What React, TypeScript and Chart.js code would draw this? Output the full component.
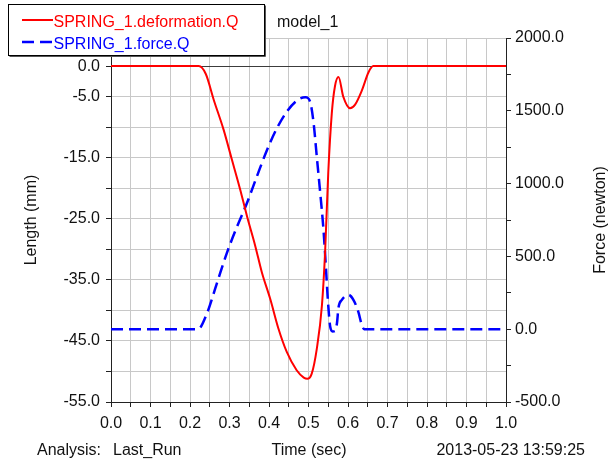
import React, { useEffect, useRef } from 'react';
import { Chart, registerables } from 'chart.js';

Chart.register(...registerables);

// ---- data ----
const deformTime = [0, 0.222, 0.24, 0.26, 0.285, 0.306, 0.327, 0.344, 0.365, 0.382, 0.403, 0.424, 0.445, 0.47, 0.488, 0.497, 0.508, 0.521, 0.534, 0.542, 0.55, 0.559, 0.567, 0.576, 0.588, 0.605, 0.618, 0.635, 0.652, 0.664, 1.0];
const deformValues = [0, 0, -1.3, -5.5, -10.4, -15.3, -20.2, -24.5, -29.4, -33.8, -38.1, -43.0, -46.8, -49.8, -51.0, -51.2, -50.4, -46.3, -39.2, -30.5, -17.5, -7.7, -3.3, -1.8, -5.0, -6.9, -6.3, -4.0, -1.0, 0, 0];

const forceTime = [0, 0.22, 0.243, 0.268, 0.293, 0.319, 0.344, 0.369, 0.395, 0.42, 0.445, 0.47, 0.492, 0.504, 0.513, 0.521, 0.529, 0.538, 0.544, 0.549, 0.555, 0.561, 0.567, 0.572, 0.576, 0.584, 0.601, 0.614, 0.626, 0.635, 0.641, 1.0];
const forceValues = [0, 0, 109, 315, 521, 704, 865, 1047, 1231, 1380, 1494, 1569, 1593, 1563, 1414, 1185, 956, 681, 429, 200, 17, -15, -12, 40, 150, 200, 236, 200, 120, 29, 0, 0];

const timeTicks = [0, 0.05, 0.1, 0.15, 0.2, 0.25, 0.3, 0.35, 0.4, 0.45, 0.5, 0.55, 0.6, 0.65, 0.7, 0.75, 0.8, 0.85, 0.9, 0.95, 1.0];
const timeLabelled = [0, 0.1, 0.2, 0.3, 0.4, 0.5, 0.6, 0.7, 0.8, 0.9, 1.0];
const lengthTicks = [-55, -50, -45, -40, -35, -30, -25, -20, -15, -10, -5, 0];
const lengthLabelled = [-55, -45, -35, -25, -15, -5, 0];
const forceTicks = [-500, -250, 0, 250, 500, 750, 1000, 1250, 1500, 1750, 2000];
const forceLabelled = [-500, 0, 500, 1000, 1500, 2000];

const seriesNames = ['SPRING_1.deformation.Q', 'SPRING_1.force.Q'];
const seriesColors = ['#ff0000', '#0000ff'];
const chartTitle = 'model_1';
const xTitle = 'Time (sec)';
const yTitle = 'Length (mm)';
const y1Title = 'Force (newton)';
const analysisLabel = 'Analysis:';
const analysisName = 'Last_Run';
const stamp = '2013-05-23 13:59:25';

const FONT = '"Liberation Sans", Arial, sans-serif';
const TEXT = '#111111';
const GRID = '#c8c8c8';
const AXIS = '#222222';
const DASH = [12, 6];

const isIn = (arr: number[], v: number) => arr.some((a) => Math.abs(a - v) < 1e-6);

const overlayPlugin = {
  id: 'overlay',
  beforeDatasetsDraw(chart: any) {
    const { ctx, chartArea } = chart;
    ctx.save();
    ctx.strokeStyle = GRID;
    ctx.lineWidth = 1;
    ctx.beginPath();
    ctx.moveTo(chartArea.left, Math.round(chartArea.top) + 0.5);
    ctx.lineTo(chartArea.right, Math.round(chartArea.top) + 0.5);
    ctx.stroke();
    ctx.restore();
  },
  afterDraw(chart: any) {
    const { ctx, chartArea } = chart;
    const midY = (chartArea.top + chartArea.bottom) / 2;
    ctx.save();
    ctx.font = `16px ${FONT}`;
    ctx.fillStyle = TEXT;
    ctx.textBaseline = 'alphabetic';
    ctx.textAlign = 'left';
    // title
    ctx.fillText(chartTitle, 277, 27);
    // bottom texts
    ctx.fillText(analysisLabel, 37, 454.5);
    ctx.fillText(analysisName, 113, 454.5);
    ctx.textAlign = 'center';
    ctx.fillText(xTitle, 309, 454.5);
    ctx.textAlign = 'right';
    ctx.fillText(stamp, 585, 454.5);
    // axis titles
    ctx.textAlign = 'center';
    ctx.textBaseline = 'middle';
    ctx.save();
    ctx.translate(31.5, midY);
    ctx.rotate(-Math.PI / 2);
    ctx.fillText(yTitle, 0, 0);
    ctx.restore();
    ctx.save();
    ctx.translate(600.5, midY);
    ctx.rotate(-Math.PI / 2);
    ctx.fillText(y1Title, 0, 0);
    ctx.restore();

    // legend box
    ctx.fillStyle = '#ffffff';
    ctx.fillRect(8.5, 4.5, 256, 51);
    ctx.strokeStyle = '#000000';
    ctx.lineWidth = 1;
    ctx.strokeRect(8.5, 4.5, 256, 51);
    ctx.strokeStyle = '#555555';
    ctx.beginPath();
    ctx.moveTo(265.5, 5.5);
    ctx.lineTo(265.5, 56.5);
    ctx.lineTo(9.5, 56.5);
    ctx.stroke();

    const rows = [20, 42];
    const baselines = [27.3, 49.3];
    seriesNames.forEach((name, i) => {
      ctx.strokeStyle = seriesColors[i];
      ctx.lineWidth = i === 0 ? 2 : 2.5;
      ctx.setLineDash(i === 0 ? [] : DASH);
      ctx.beginPath();
      ctx.moveTo(22, rows[i]);
      ctx.lineTo(53, rows[i]);
      ctx.stroke();
      ctx.setLineDash([]);
      ctx.fillStyle = seriesColors[i];
      ctx.textAlign = 'left';
      ctx.textBaseline = 'alphabetic';
      ctx.fillText(name, 53.5, baselines[i]);
    });
    ctx.restore();
  },
};

export default function App() {
  const ref = useRef<HTMLCanvasElement | null>(null);

  useEffect(() => {
    if (!ref.current) return;
    const tickFont = { family: FONT, size: 16 };
    const chart = new Chart(ref.current, {
      type: 'line',
      data: {
        datasets: [
          {
            label: seriesNames[0],
            data: deformTime.map((t, i) => ({ x: t, y: deformValues[i] })),
            borderColor: seriesColors[0],
            borderWidth: 2,
            pointRadius: 0,
            cubicInterpolationMode: 'monotone',
            yAxisID: 'y',
            fill: false,
          },
          {
            label: seriesNames[1],
            data: forceTime.map((t, i) => ({ x: t, y: forceValues[i] })),
            borderColor: seriesColors[1],
            borderWidth: 2.5,
            borderDash: DASH,
            pointRadius: 0,
            cubicInterpolationMode: 'monotone',
            yAxisID: 'y1',
            fill: false,
          },
        ],
      },
      options: {
        animation: false,
        responsive: true,
        maintainAspectRatio: false,
        layout: { padding: { top: 38, left: 0, right: 0, bottom: 0 } },
        plugins: {
          legend: { display: false },
          title: { display: false },
          tooltip: { enabled: false },
        },
        scales: {
          x: {
            type: 'linear',
            position: 'bottom',
            min: 0,
            max: 1,
            afterBuildTicks: (scale: any) => {
              scale.ticks = timeTicks.map((v) => ({ value: v }));
            },
            afterFit: (scale: any) => {
              scale.height = 57;
            },
            ticks: {
              autoSkip: false,
              maxRotation: 0,
              minRotation: 0,
              padding: 7,
              color: TEXT,
              font: tickFont,
              callback: (v: any) => (isIn(timeLabelled, Number(v)) ? Number(v).toFixed(1) : ''),
            },
            grid: { color: GRID, lineWidth: 1, tickColor: AXIS, tickLength: 5, drawTicks: true },
            border: { display: true, color: AXIS, width: 1 },
          },
          y: {
            type: 'linear',
            position: 'left',
            min: -55,
            max: 4.6,
            afterBuildTicks: (scale: any) => {
              scale.ticks = lengthTicks.map((v) => ({ value: v }));
            },
            afterFit: (scale: any) => {
              scale.width = 111;
            },
            ticks: {
              autoSkip: false,
              padding: 6,
              color: TEXT,
              font: tickFont,
              callback: (v: any) => (isIn(lengthLabelled, Number(v)) ? Number(v).toFixed(1) : ''),
            },
            grid: {
              color: (c: any) => (c.tick && Math.abs(c.tick.value) < 1e-9 ? '#3c3c3c' : GRID),
              lineWidth: 1,
              tickColor: AXIS,
              tickLength: 5,
              drawTicks: true,
            },
            border: { display: true, color: AXIS, width: 1 },
          },
          y1: {
            type: 'linear',
            position: 'right',
            min: -500,
            max: 2000,
            afterBuildTicks: (scale: any) => {
              scale.ticks = forceTicks.map((v) => ({ value: v }));
            },
            afterFit: (scale: any) => {
              scale.width = 103;
            },
            ticks: {
              autoSkip: false,
              padding: 4,
              color: TEXT,
              font: tickFont,
              callback: (v: any) => (isIn(forceLabelled, Number(v)) ? Number(v).toFixed(1) : ''),
            },
            grid: { drawOnChartArea: false, tickColor: AXIS, tickLength: 5, drawTicks: true },
            border: { display: true, color: AXIS, width: 1 },
          },
        },
      },
      plugins: [overlayPlugin],
    } as any);
    return () => chart.destroy();
  }, []);

  return (
    <div style={{ position: 'fixed', left: 0, top: 0, width: 609, height: 459, background: '#ffffff' }}>
      <canvas ref={ref} />
    </div>
  );
}
